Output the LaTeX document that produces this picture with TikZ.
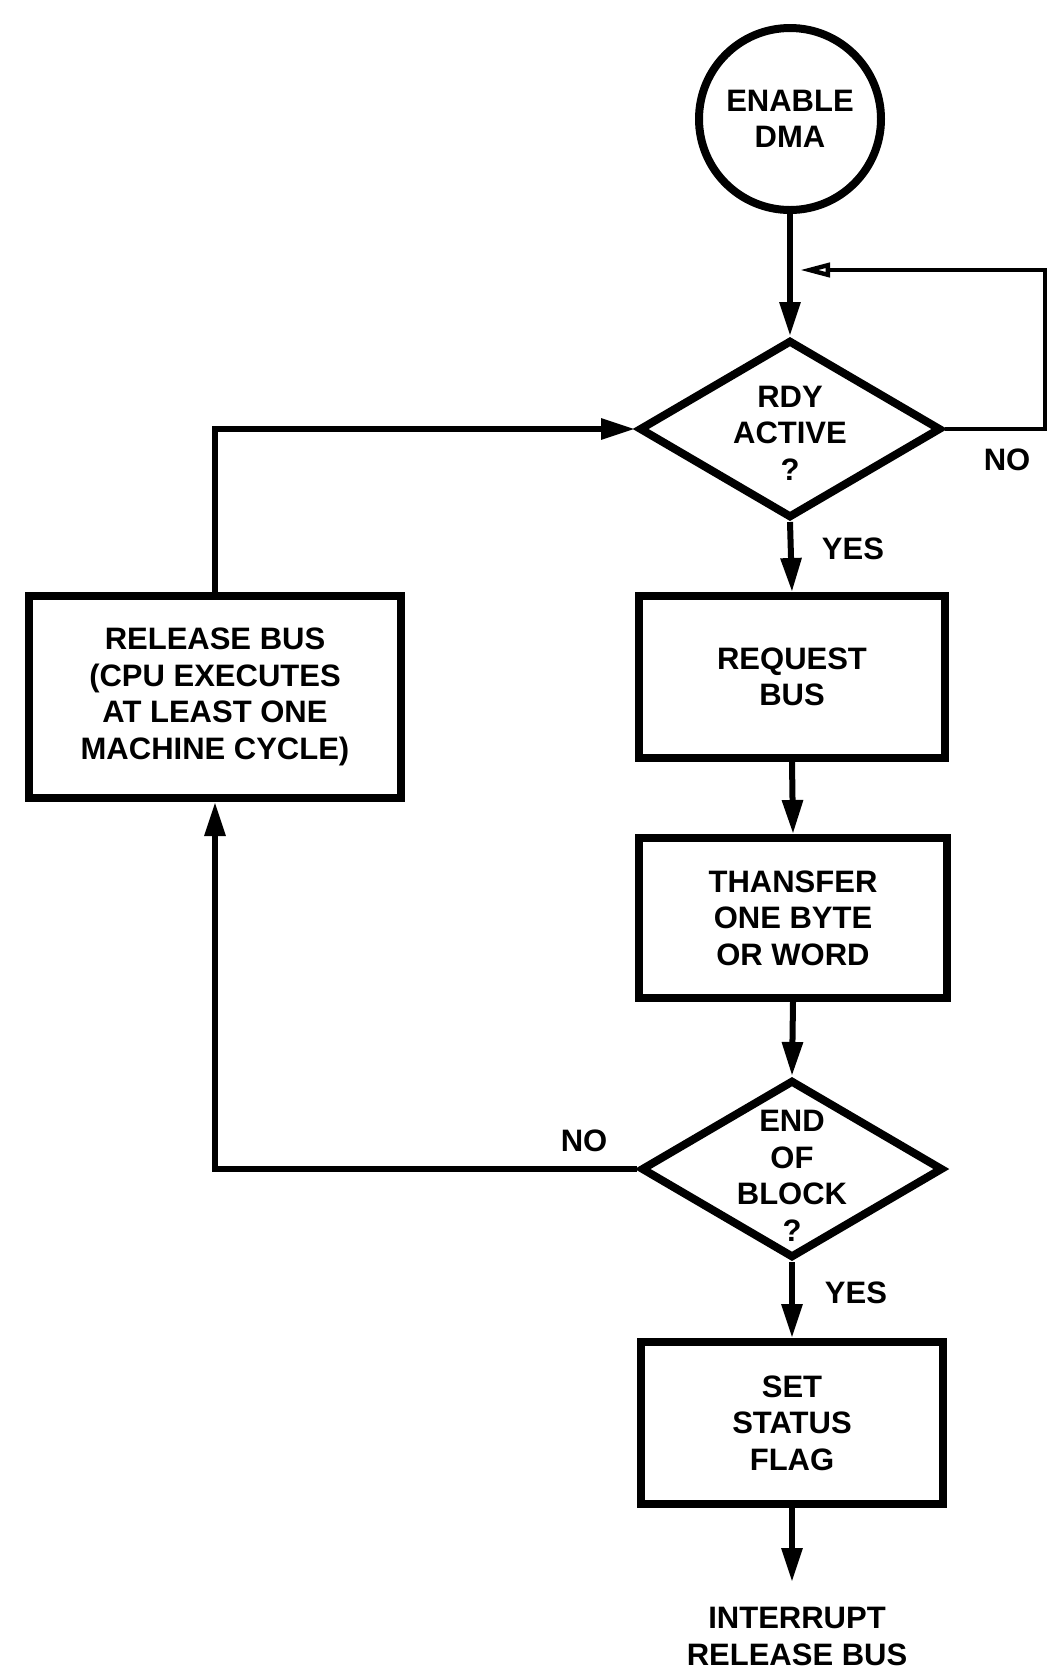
\documentclass[tikz,border=0pt]{standalone}
\usepackage{fontspec}
\setmainfont{Liberation Sans}
\usetikzlibrary{arrows.meta,shapes.geometric}

\begin{document}
\begin{tikzpicture}[x=0.5pt, y=-0.5pt,
    font=\fontsize{15.5}{18.3}\selectfont\bfseries,
    >={Triangle[length=17pt,width=10pt]},
    box/.style={draw, line width=4pt, align=center, inner sep=0pt},
    test/.style={draw, diamond, line width=4pt, inner sep=0pt,
        minimum width=151pt, minimum height=89pt},
    flow/.style={line width=3pt, ->},
    lab/.style={inner sep=0pt}]
    \useasboundingbox (0,0) rectangle (1048,1672);
    % Main column.
    \node[box, circle, minimum size=91pt] (start) at (790,119) {ENABLE\\DMA};
    \node[test] (rdy) at (790,429) {};
    \node[align=center, inner sep=0pt] (rdytext) at (790,433) {RDY\\ACTIVE\\?};
    \node[box, minimum width=153pt, minimum height=81pt] (req) at (792,677) {REQUEST\\BUS};
    \node[box, minimum width=154pt, minimum height=80pt] (xfer) at (793,918) {THANSFER\\ONE BYTE\\OR WORD};
    \node[test] (eob) at (792,1169) {};
    \node[align=center, inner sep=0pt] (eobtext) at (792,1176) {END\\OF\\BLOCK\\?};
    \node[box, minimum width=151pt, minimum height=81pt] (flag) at (792,1423) {SET\\STATUS\\FLAG};
    \node[align=center, anchor=north, inner sep=12.5pt] (out) at (797,1582) {INTERRUPT\\RELEASE BUS};
    % Side box.
    \node[box, minimum width=186pt, minimum height=101pt] (rel) at (215,697)
        {RELEASE BUS\\(CPU EXECUTES\\AT LEAST ONE\\MACHINE CYCLE)};
    \coordinate (loopin) at (800,270);
    % Labels.
    \node[lab] (noA) at (1007,460) {NO};
    \node[lab] (yesA) at (853,549) {YES};
    \node[lab] (noB) at (584,1141) {NO};
    \node[lab] (yesB) at (856,1293) {YES};
    % Connectors.
    \draw[flow] (start) -- (rdy.north);
    \draw[flow] (rdy.south) -- (req.north);
    \draw[flow] (req.south) -- (xfer.north);
    \draw[flow] (xfer.south) -- (eob.north);
    \draw[flow] (eob.south) -- (flag.north);
    \draw[flow] (flag.south) -- (flag.south |- out.north);
    \draw[flow] (eob.west) -| (rel.south);
    \draw[flow] (rel.north) |- (rdy.west);
    \draw[line width=2.2pt, -{Triangle[open,length=15pt,width=7pt]}]
        (rdy.east) -- ++(100,0) |- (loopin);
\end{tikzpicture}
\end{document}
